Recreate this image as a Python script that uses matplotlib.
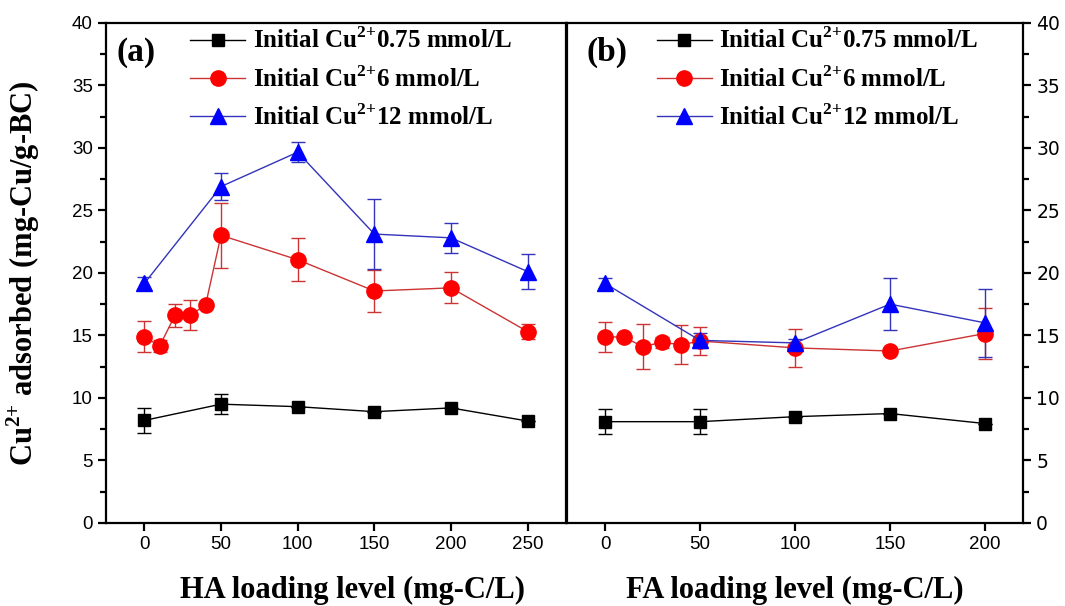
import matplotlib
matplotlib.use("Agg")
import matplotlib.pyplot as plt

plt.rcParams['mathtext.fontset'] = 'custom'
plt.rcParams['mathtext.bf'] = 'Liberation Serif:bold'
plt.rcParams['mathtext.rm'] = 'Liberation Serif:bold'

# ---- data ----
labels = ['Initial Cu$^{\\mathbf{2{+}}}$0.75 mmol/L',
          'Initial Cu$^{\\mathbf{2{+}}}$6 mmol/L',
          'Initial Cu$^{\\mathbf{2{+}}}$12 mmol/L']

# (a) HA
ha_x_low = [0, 50, 100, 150, 200, 250]
ha_low = [8.2, 9.5, 9.3, 8.9, 9.2, 8.15]
ha_low_err = [1.0, 0.8, 0.0, 0.0, 0.0, 0.0]

ha_x_mid = [0, 10, 20, 30, 40, 50, 100, 150, 200, 250]
ha_mid = [14.9, 14.15, 16.6, 16.6, 17.45, 23.0, 21.05, 18.55, 18.8, 15.3]
ha_mid_err = [1.25, 0.45, 0.9, 1.2, 0.0, 2.6, 1.7, 1.65, 1.25, 0.6]

ha_x_high = [0, 50, 100, 150, 200, 250]
ha_high = [19.15, 26.9, 29.65, 23.1, 22.8, 20.1]
ha_high_err = [0.5, 1.05, 0.8, 2.8, 1.2, 1.4]

# (b) FA
fa_x_low = [0, 50, 100, 150, 200]
fa_low = [8.1, 8.1, 8.5, 8.75, 7.95]
fa_low_err = [1.0, 1.0, 0.0, 0.0, 0.0]

fa_x_mid = [0, 10, 20, 30, 40, 50, 100, 150, 200]
fa_mid = [14.9, 14.85, 14.1, 14.45, 14.25, 14.55, 14.0, 13.75, 15.15]
fa_mid_err = [1.2, 0.0, 1.8, 0.45, 1.55, 1.15, 1.55, 0.0, 2.0]

fa_x_high = [0, 50, 100, 150, 200]
fa_high = [19.15, 14.6, 14.4, 17.5, 16.0]
fa_high_err = [0.4, 0.6, 0.3, 2.05, 2.7]

serif = 'Liberation Serif'
sans = 'Liberation Sans'

fig = plt.figure(figsize=(10.65, 6.06), dpi=100)
ax1 = fig.add_axes([0.0995, 0.137, 0.4320, 0.8255])
ax2 = fig.add_axes([0.5324, 0.137, 0.4282, 0.8255])

styles = [
    dict(marker='s', mfc='black', mec='black', color='black', ecolor='black', ms=9),
    dict(marker='o', mfc='#ff0000', mec='#ff0000', color='#cc3333', ecolor='#cc3333', ms=11),
    dict(marker='^', mfc='#0000ff', mec='#0000ff', color='#3333bb', ecolor='#3333bb', ms=11),
]


def draw(ax, series):
    for (x, y, e), st, lab in zip(series, styles, labels):
        ax.errorbar(x, y, yerr=e, lw=1, elinewidth=1, capsize=5, capthick=1,
                    label=lab, **st)


draw(ax1, [(ha_x_low, ha_low, ha_low_err),
           (ha_x_mid, ha_mid, ha_mid_err),
           (ha_x_high, ha_high, ha_high_err)])
draw(ax2, [(fa_x_low, fa_low, fa_low_err),
           (fa_x_mid, fa_mid, fa_mid_err),
           (fa_x_high, fa_high, fa_high_err)])

ax1.set_xlim(-25, 275)
ax2.set_xlim(-20, 220)
for ax in (ax1, ax2):
    ax.set_ylim(0, 40)
    ax.set_yticks(range(0, 41, 5))
    ax.set_yticks([2.5 + 5 * i for i in range(8)], minor=True)
    for s in ax.spines.values():
        s.set_linewidth(1.6)
    ax.tick_params(which='major', direction='out', length=6, width=1.6, labelsize=13.5)
    ax.tick_params(which='minor', direction='out', length=4, width=1.6)
    for t in ax.get_xticklabels() + ax.get_yticklabels():
        t.set_fontfamily(sans)

ax1.set_xticks(range(0, 251, 50))
ax2.set_xticks(range(0, 201, 50))
ax1.tick_params(axis='y', which='both', right=False, left=True)
ax2.tick_params(axis='y', which='both', left=False, right=True, labelleft=False, labelright=True)

ax1.set_ylabel('Cu$^{\\mathbf{2{+}}}$ adsorbed (mg-Cu/g-BC)', fontfamily=serif,
               fontweight='bold', fontsize=22)
ax1.yaxis.set_label_coords(-0.14, 0.5)
ax1.set_xlabel('HA loading level (mg-C/L)', fontfamily=serif, fontweight='bold', fontsize=22)
ax2.set_xlabel('FA loading level (mg-C/L)', fontfamily=serif, fontweight='bold', fontsize=22)
ax1.xaxis.set_label_coords(0.535, -0.105)
ax2.xaxis.set_label_coords(0.5, -0.105)

ax1.text(0.065, 0.941, '(a)', transform=ax1.transAxes, ha='center', va='center',
         fontfamily=serif, fontweight='bold', fontsize=24)
ax2.text(0.088, 0.941, '(b)', transform=ax2.transAxes, ha='center', va='center',
         fontfamily=serif, fontweight='bold', fontsize=24)

for ax, x0 in ((ax1, 0.183), (ax2, 0.197)):
    h, l = ax.get_legend_handles_labels()
    h = [hh[0] for hh in h]
    ax.legend(h, l, loc='upper left', bbox_to_anchor=(x0, 0.99), frameon=False,
              borderpad=0, borderaxespad=0, handlelength=2.2, handletextpad=0.3,
              labelspacing=0.5, prop=dict(family=serif, weight='bold', size=18))

fig.savefig('out.png', dpi=100)
